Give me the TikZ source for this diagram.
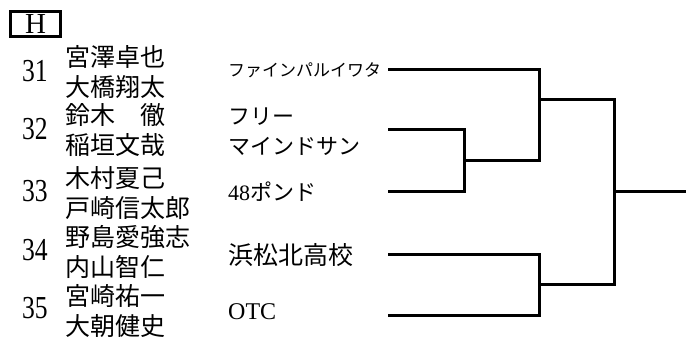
\documentclass[tikz,border=0pt]{standalone}
\usepackage{fontspec}
\setmainfont{Liberation Serif}
\newfontfamily\jp{Noto Sans CJK JP}
\newfontfamily\numfont[FakeStretch=0.8]{Liberation Serif}
\begin{document}
\begin{tikzpicture}[x=1pt,y=-1pt,
  pair/.style={anchor=west,align=left,font=\jp\fontsize{25}{29.5}\selectfont},
  num/.style={font=\numfont\fontsize{32}{32}\selectfont},
  team/.style={anchor=west,align=left,font=\jp\fontsize{22}{30}\selectfont},
  bline/.style={line width=3pt}]
\tikzstyle{every node}+=[inner sep=0pt]
\useasboundingbox (0,0) rectangle (686,342);
\node [draw,line width=2.5pt,minimum width=50pt,minimum height=25pt,font=\fontsize{29}{29}\selectfont] (blk) at (35.5,24) {H};
\node [num] (n31) at (35,71) {31};
\node [pair] (p31) at (65,72) {宮澤卓也\\大橋翔太};
\node [num] (n32) at (35,129) {32};
\node [pair] (p32) at (65,130) {鈴木\hspace{1em}徹\\稲垣文哉};
\node [num] (n33) at (35,191) {33};
\node [pair] (p33) at (65,193) {木村夏己\\戸崎信太郎};
\node [num] (n34) at (35,250) {34};
\node [pair] (p34) at (65,252) {野島愛強志\\内山智仁};
\node [num] (n35) at (35,308) {35};
\node [pair] (p35) at (65,311) {宮崎祐一\\大朝健史};
\node [team,font=\jp\fontsize{17}{17}\selectfont] (t31) at (228,70) {ファインパルイワタ};
\node [team] (t32) at (228,132) {フリー\\マインドサン};
\node [team,font=\fontsize{22}{22}\selectfont] (t33) at (228,192) {48{\jp ポンド}};
\node [team,font=\jp\fontsize{25}{25}\selectfont] (t34) at (228,255) {浜松北高校};
\node [team,font=\fontsize{24}{24}\selectfont] (t35) at (228,312) {OTC};
\coordinate (e31) at (388,70);
\coordinate (e32) at (388,130);
\coordinate (e33) at (388,192);
\coordinate (e34) at (388,254);
\coordinate (e35) at (388,315);
\coordinate (m1) at (464,161);
\coordinate (k1) at (539,161);
\coordinate (s1) at (539,100);
\coordinate (s2) at (539,284);
\coordinate (f) at (614,192);
\coordinate (w) at (686,192);
\draw [bline] (e31) -| (k1) -- (m1);
\draw [bline] (e32) -| (m1) |- (e33);
\draw [bline] (e34) -| (s2) |- (e35);
\draw [bline] (s1) -| (f) |- (s2);
\draw [bline] (f) -- (w);
\end{tikzpicture}
\end{document}
